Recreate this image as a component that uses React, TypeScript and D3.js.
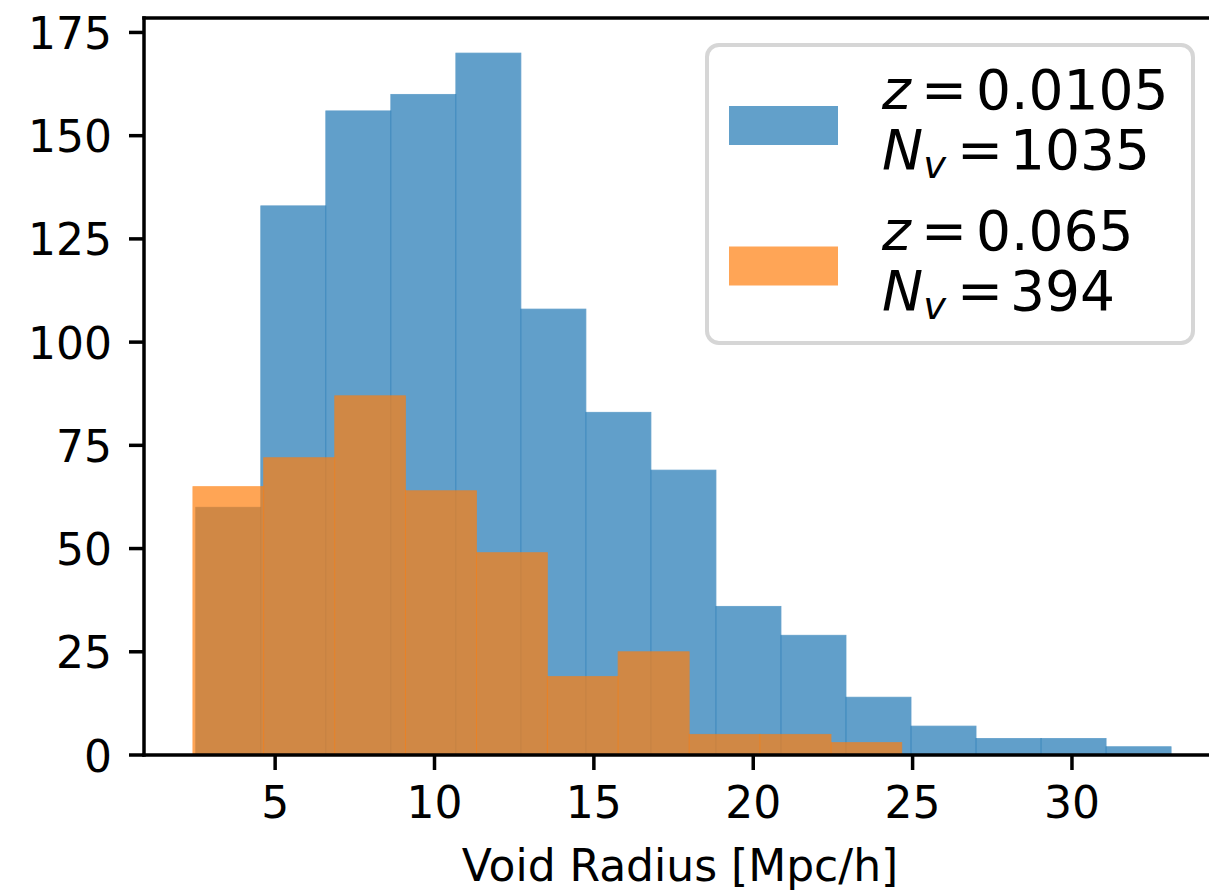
import React from "react";
import * as d3 from "d3";

// ---- data ----
const blueEdges = [2.51, 4.55, 6.59, 8.63, 10.67, 12.71, 14.75, 16.79, 18.83, 20.87, 22.91, 24.95, 26.99, 29.03, 31.07, 33.11];
const blueCounts = [60, 133, 156, 160, 170, 108, 83, 69, 36, 29, 14, 7, 4, 4, 2];
const orangeEdges = [2.42, 4.64, 6.87, 9.09, 11.32, 13.54, 15.76, 17.99, 20.21, 22.44, 24.66];
const orangeCounts = [65, 72, 87, 64, 49, 19, 25, 5, 5, 3];
const xTicks = [5, 10, 15, 20, 25, 30];
const yTicks = [0, 25, 50, 75, 100, 125, 150, 175];
const legendZ = ["0.0105", "0.065"];
const legendN = ["1035", "394"];
const xLabel = "Void Radius [Mpc/h]";

const W = 1209;
const H = 893;
const M = { left: 144, right: 1220, top: 18, bottom: 755 };
const BLUE = "#1f77b4";
const ORANGE = "#ff7f0e";
const ALPHA = 0.7;
const FONT = "DejaVu Sans, Liberation Sans, sans-serif";
const TICK_FS = 44;
const LEG_FS = 55;
const TICK_LEN = 15;
const LW = 3.5;

function bins(edges: number[], counts: number[]) {
  return counts.map((c, i) => ({ x0: edges[i], x1: edges[i + 1], c }));
}

export default function App() {
  const allEdges = [...blueEdges, ...orangeEdges];
  const lo = d3.min(allEdges)!;
  const hi = d3.max(allEdges)!;
  const pad = (hi - lo) * 0.05;
  const x = d3.scaleLinear().domain([lo - pad, hi + pad]).range([M.left, M.right]);
  const ymax = d3.max([...blueCounts, ...orangeCounts])! * 1.05;
  const y = d3.scaleLinear().domain([0, ymax]).range([M.bottom, M.top]);

  const series = [
    { color: BLUE, data: bins(blueEdges, blueCounts) },
    { color: ORANGE, data: bins(orangeEdges, orangeCounts) },
  ];

  const legX = 707, legY = 45, legW = 486, legH = 298;
  const patchX = 729, patchW = 109, patchH = 39;
  const entryStep = 140.5;
  const textX = 882;

  return (
    <svg
      width={W}
      height={H}
      viewBox={`0 0 ${W} ${H}`}
      style={{ position: "absolute", left: 0, top: 0, display: "block", background: "#fff" }}
      fontFamily={FONT}
    >
      <rect x={0} y={0} width={W} height={H} fill="#fff" />
      {/* bars */}
      {series.map((s, si) => (
        <g key={si}>
          {s.data.map((b, i) => (
            <rect
              key={i}
              x={x(b.x0)}
              y={y(b.c)}
              width={x(b.x1) - x(b.x0)}
              height={y(0) - y(b.c)}
              fill={s.color}
              stroke={s.color}
              strokeWidth={0.8}
              opacity={ALPHA}
            />
          ))}
        </g>
      ))}

      {/* spines */}
      <g stroke="#000" strokeWidth={LW} fill="none" strokeLinecap="square">
        <line x1={M.left} y1={M.top} x2={M.left} y2={M.bottom} />
        <line x1={M.left} y1={M.bottom} x2={M.right} y2={M.bottom} />
        <line x1={M.left} y1={M.top} x2={M.right} y2={M.top} />
        <line x1={M.right} y1={M.top} x2={M.right} y2={M.bottom} />
      </g>

      {/* x ticks */}
      {xTicks.map((t) => (
        <g key={t}>
          <line x1={x(t)} x2={x(t)} y1={M.bottom} y2={M.bottom + TICK_LEN} stroke="#000" strokeWidth={LW} />
          <text x={x(t)} y={818} textAnchor="middle" fontSize={TICK_FS} fill="#000">
            {t}
          </text>
        </g>
      ))}
      {/* y ticks */}
      {yTicks.map((t) => (
        <g key={t}>
          <line x1={M.left - TICK_LEN} x2={M.left} y1={y(t)} y2={y(t)} stroke="#000" strokeWidth={LW} />
          <text x={112} y={y(t) + 16.5} textAnchor="end" fontSize={TICK_FS} fill="#000">
            {t}
          </text>
        </g>
      ))}

      {/* x label */}
      <text x={(M.left + M.right) / 2 - 2} y={881} textAnchor="middle" fontSize={TICK_FS} fill="#000">
        {xLabel}
      </text>

      {/* legend */}
      <g>
        <rect
          x={legX}
          y={legY}
          width={legW}
          height={legH}
          rx={12}
          ry={12}
          fill="#fff"
          fillOpacity={0.8}
          stroke="#cccccc"
          strokeOpacity={0.8}
          strokeWidth={4}
        />
        {series.map((s, i) => {
          const base = 109 + i * entryStep;
          return (
            <g key={i}>
              <rect x={patchX} y={106 + i * entryStep} width={patchW} height={patchH} fill={s.color} opacity={ALPHA} />
              <text x={textX} y={base} fontSize={LEG_FS} fill="#000">
                <tspan fontStyle="italic">z</tspan>
                <tspan dx={10}>=</tspan>
                <tspan dx={9}>{legendZ[i]}</tspan>
              </text>
              <text x={textX} y={base + 60} fontSize={LEG_FS} fill="#000">
                <tspan fontStyle="italic">N</tspan>
                <tspan fontStyle="italic" fontSize={LEG_FS * 0.7} dy={9}>v</tspan>
                <tspan dx={11} dy={-9}>=</tspan>
                <tspan dx={7}>{legendN[i]}</tspan>
              </text>
            </g>
          );
        })}
      </g>
    </svg>
  );
}
